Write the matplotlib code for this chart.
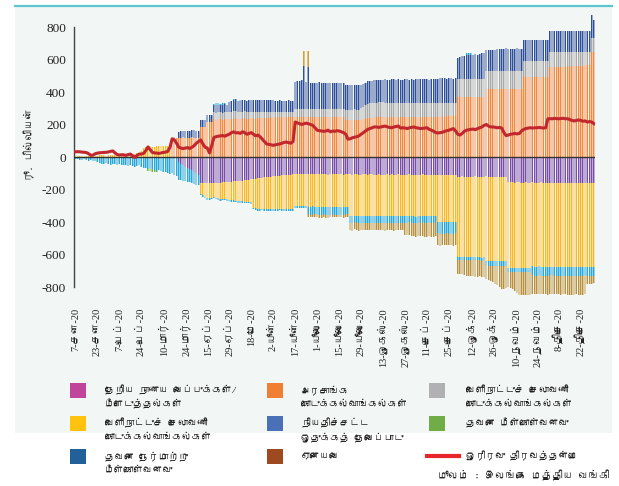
import numpy as np
import matplotlib
matplotlib.use("Agg")
import matplotlib.pyplot as plt
from matplotlib import font_manager as fm
from matplotlib.patches import Rectangle
from matplotlib.lines import Line2D

# ---------- font with Tamil glyphs (if any installed) ----------
tamil_font = None
try:
    from fontTools.ttLib import TTFont
    for f in fm.fontManager.ttflist:
        try:
            tt = TTFont(f.fname, fontNumber=0, lazy=True)
            cm = tt.getBestCmap()
            if cm and 0x0BA4 in cm and 0x0BC6 in cm:
                tamil_font = f.name
                break
        except Exception:
            pass
except Exception:
    pass
TAM = ([tamil_font] if tamil_font else []) + ["DejaVu Sans"]
SERIF = ["Liberation Serif"] + TAM

# ---------- data ----------
tick_labels = ["7-சன-20", "23-சன-20", "7-பெப்-20", "24-பெப்-20", "10-மார்-20", "24-மார்-20",
               "15-ஏப்-20", "29-ஏப்-20", "18-மே-20", "2-யூன்-20", "17-யூன்-20", "1-யூலை-20",
               "15-யூலை-20", "29-யூலை-20", "13-ஓகஸ்-20", "27-ஓகஸ்-20", "11-செப்-20", "25-செப்-20",
               "12-ஒக்-20", "26-ஒக்-20", "10-நவம்-20", "24-நவம்-20", "8-திசெ-20", "22-திசெ-20"]

# positive early foreign exchange (first 50 days)
fx_early = [3,4,5,5,6,5,4,5,6,5,
            8,10,12,10,8,12,14,15,12,10,
            12,14,15,12,10,15,18,20,22,25,
            40,55,60,62,65,62,60,65,68,66,
            68,66,65,62,0,0,0,0,0,0]

govt = [0,0,0,0,0,0,0,0,0,0,
        0,0,0,0,0,0,0,0,0,0,
        0,0,0,0,0,0,0,0,0,0,
        0,0,0,0,0,0,0,0,0,0,
        0,0,0,0,120,125,118,118,120,122,
        120,118,120,122,120,118,120,185,185,186,
        215,214,216,232,230,235,232,230,235,232,
        235,232,236,238,235,232,236,238,235,236,
        238,240,236,238,240,242,238,240,242,244,
        242,244,245,243,246,244,246,245,247,246,
        246,247,245,246,246,247,246,246,245,247,
        246,245,247,246,245,246,247,245,246,247,
        246,245,246,228,227,229,228,230,228,229,
        230,232,235,238,240,242,244,245,244,245,
        244,245,243,246,244,245,242,244,246,245,
        244,243,245,244,246,245,243,244,245,246,
        245,247,246,248,246,247,248,250,248,250,
        255,254,256,255,370,372,370,368,370,371,
        370,372,369,371,370,372,370,418,418,417,
        418,419,417,418,420,418,417,418,419,418,
        418,420,419,418,492,490,493,492,491,492,
        492,490,493,492,491,492,553,552,554,553,
        555,554,556,555,557,556,558,557,559,560,
        562,563,564,565,566,646,646]

fx_pos = [0,0,0,0,0,0,0,0,0,0,
          0,0,0,0,0,0,0,0,0,0,
          0,0,0,0,0,0,0,0,0,0,
          0,0,0,0,0,0,0,0,0,0,
          0,0,0,0,0,0,0,0,0,0,
          0,0,0,0,0,0,0,0,0,0,
          0,0,0,42,43,44,42,43,44,45,
          44,43,45,44,42,43,44,45,43,44,
          42,40,44,42,40,38,42,40,38,36,
          38,36,35,37,34,36,34,35,33,34,
          48,50,52,50,50,50,48,50,52,50,
          50,52,50,49,51,50,48,52,50,49,
          50,52,50,62,63,61,62,64,62,63,
          70,78,85,90,92,92,90,90,92,91,
          92,90,92,89,91,90,93,91,89,90,
          91,92,90,91,89,90,92,91,90,89,
          90,88,89,87,89,88,87,85,87,85,
          80,81,79,80,110,108,110,112,110,109,
          110,108,111,109,110,108,110,112,112,113,
          112,111,113,112,110,112,113,112,111,112,
          112,110,111,112,98,100,97,98,99,98,
          98,100,97,98,99,98,92,93,91,92,
          90,91,89,90,88,89,87,88,86,85,
          83,82,81,80,79,84,84]

srr = [0,0,0,0,0,0,0,0,0,0,
       0,0,0,0,0,0,0,0,0,0,
       0,0,0,0,0,0,0,0,0,0,
       0,0,0,0,0,0,0,0,0,0,
       0,0,0,0,0,0,0,38,42,40,
       42,45,40,43,44,42,40,43,44,42,
       43,44,42,45,46,44,45,47,46,45,
       60,68,70,72,68,70,72,70,68,70,
       70,72,70,68,72,70,68,70,72,70,
       68,66,65,68,66,64,66,68,64,66,
       170,172,168,175,262,162,262,160,158,160,
       160,162,158,160,160,162,160,158,160,162,
       160,158,160,153,152,154,153,152,154,153,
       145,140,138,137,135,136,138,137,136,138,
       140,142,138,140,145,142,140,143,141,140,
       142,145,140,143,141,144,146,142,143,145,
       142,140,145,143,148,146,150,152,150,148,
       150,152,148,151,130,135,140,142,145,148,
       150,148,152,150,155,158,160,130,128,130,
       128,130,132,135,134,136,138,136,134,135,
       136,138,135,137,130,132,128,130,131,130,
       130,132,131,130,132,130,128,130,132,130,
       128,130,132,130,131,128,130,132,131,130,
       132,130,128,130,128,145,115]

cap_idx = [63, 64, 65, 66, 67, 68, 72, 75, 178, 179, 180]
cap_val = [10, 12, 8, 10, 12, 8, 6, 8, 12, 15, 10]
spike_idx = [104, 106]
spike_val = [95, 95]

# negative components (magnitudes)
deposits = [0,0,0,0,0,0,0,0,0,0,
            0,0,0,0,0,0,0,0,0,0,
            0,0,0,0,0,0,0,0,0,0,
            0,0,0,0,0,0,0,0,0,0,
            0,0,0,0,0,0,0,30,40,50,
            60,70,75,80,90,100,110,160,160,160,
            160,160,160,160,160,158,158,156,155,155,
            154,152,150,150,148,146,145,144,142,140,
            138,136,135,132,130,128,126,125,122,120,
            118,116,115,114,112,110,110,108,108,106,
            106,105,105,106,104,105,106,105,104,106,
            105,106,107,105,106,108,107,106,105,107,
            106,107,108,106,105,107,108,106,107,108,
            108,107,106,108,107,106,108,109,107,108,
            108,109,107,108,106,108,109,107,108,109,
            109,108,107,109,108,110,109,108,107,109,
            110,108,109,110,108,109,110,111,109,110,
            110,109,111,110,120,121,119,120,122,120,
            121,120,119,120,121,122,120,119,120,121,
            120,121,120,122,121,120,121,155,156,155,
            157,156,155,157,158,156,157,158,156,157,
            158,157,156,158,157,159,158,157,158,159,
            158,160,159,158,160,159,161,160,159,160,
            160,161,159,160,161,160,162]

fx_neg = [0,0,0,0,0,0,0,0,0,0,
          0,0,0,0,0,0,0,0,0,0,
          0,0,0,0,0,0,0,0,0,0,
          0,0,0,0,0,0,0,0,0,0,
          0,0,0,0,0,0,0,0,0,0,
          0,0,0,0,0,0,0,65,75,85,
          95,95,90,85,90,95,98,100,102,105,
          108,112,115,118,122,125,128,130,132,135,
          140,175,180,185,188,190,192,195,196,198,
          200,202,204,205,206,208,208,210,210,212,
          195,196,195,194,196,195,200,202,200,201,
          200,202,201,200,203,202,200,201,202,200,
          201,200,202,200,201,255,256,254,255,256,
          255,256,257,255,256,258,257,256,255,257,
          256,257,255,256,258,257,256,255,257,256,
          257,256,255,257,256,258,257,256,255,256,
          256,255,257,256,255,290,292,290,291,290,
          291,290,292,290,497,496,498,497,496,498,
          497,496,498,497,496,498,497,520,522,520,
          521,520,522,521,520,522,521,528,527,526,
          526,527,528,526,525,527,526,525,517,518,
          517,516,518,517,519,517,516,518,517,516,
          518,517,516,518,517,519,518,517,516,517,
          518,517,516,517,518,517,516]

fund = [12,15,18,20,15,18,22,20,25,22,
        30,35,40,45,38,42,48,45,40,50,
        45,50,48,52,55,50,58,60,55,52,
        60,65,70,72,68,75,80,85,78,88,
        90,95,100,105,98,110,115,110,100,95,
        90,85,80,80,75,70,62,10,10,10,
        10,10,10,10,8,10,12,10,8,10,
        10,12,10,8,10,12,10,10,12,10,
        12,10,12,14,12,10,12,14,12,12,
        12,14,12,10,12,14,12,12,14,12,
        15,14,16,15,14,15,46,47,48,46,
        47,46,48,47,46,47,48,46,47,48,
        47,46,48,47,46,43,44,42,43,44,
        43,44,42,43,44,43,42,44,43,42,
        43,42,44,43,42,44,43,42,43,44,
        41,42,40,41,42,41,40,42,41,40,
        41,40,42,41,40,70,72,70,71,70,
        71,70,72,70,16,17,15,16,17,16,
        16,15,17,16,15,17,16,28,27,28,
        29,28,27,28,29,28,27,24,25,24,
        24,23,25,24,23,24,25,24,55,56,
        55,54,56,55,54,56,55,54,56,55,
        54,56,55,54,56,55,54,56,55,54,
        56,55,54,56,55,54,56]

others = [0,0,0,0,0,0,0,0,0,0,
          0,0,0,0,0,0,0,0,0,0,
          0,0,0,0,0,0,0,0,0,0,
          0,0,0,0,0,0,0,0,0,0,
          0,0,0,0,0,0,0,0,0,0,
          0,0,0,0,0,0,0,0,0,0,
          0,0,0,0,0,0,0,0,0,0,
          0,0,0,0,0,0,0,0,0,0,
          0,0,0,0,0,0,0,0,0,0,
          0,0,0,0,0,0,0,0,0,0,
          0,0,0,0,0,0,18,17,19,18,
          18,19,17,18,19,18,17,19,18,17,
          18,19,17,18,19,44,45,43,44,45,
          44,43,45,44,43,45,44,43,44,45,
          44,45,43,44,45,44,43,45,44,43,
          70,72,75,78,80,82,80,78,82,85,
          84,86,85,88,86,70,72,70,71,70,
          70,72,70,71,85,88,90,92,95,98,
          100,102,104,105,103,104,105,85,90,95,
          100,110,120,130,140,145,140,95,100,110,
          120,130,140,142,145,143,140,142,115,114,
          116,115,114,116,115,117,116,115,114,116,
          115,116,114,115,117,116,115,114,116,117,
          115,116,114,50,45,48,40]

green_idx = [33, 34, 35, 36, 37]
green_val = [12, 18, 20, 15, 10]

overnight = [32,33,32,30,29,27,20,10,12,20,
             24,26,27,28,29,31,35,37,25,15,
             12,14,13,10,15,18,8,-3,10,18,
             18,22,40,62,45,28,25,24,22,25,
             28,30,35,60,112,105,85,60,55,52,
             55,58,52,60,70,85,95,105,80,60,
             55,25,70,120,125,128,130,132,128,135,
             140,150,155,148,150,145,155,150,140,145,
             150,140,130,135,125,110,95,80,78,75,
             72,75,78,80,85,90,92,88,85,95,
             215,210,205,200,205,208,205,200,195,180,
             165,162,160,158,160,165,155,160,158,162,
             160,155,150,140,110,112,118,122,125,130,
             140,150,160,170,175,180,185,185,182,185,
             188,190,185,182,180,185,188,190,178,180,
             178,175,180,182,185,180,178,175,176,178,
             180,170,165,158,150,148,150,152,158,162,
             165,170,175,160,140,135,145,158,165,168,
             170,172,168,175,180,185,195,200,190,185,
             185,183,180,182,178,150,132,135,140,142,
             145,142,145,160,170,175,178,180,178,180,
             180,182,180,178,180,235,236,235,238,236,
             235,237,238,235,236,230,225,222,225,228,
             225,220,222,215,218,215,205]

legend_labels = ["தேறிய நாணய வைப்புக்கள்/\nமீளெடுத்தல்கள்", "அரசாங்க\nகொடுக்கல்வாங்கல்கள்",
                 "வெளிநாட்டுச் செலாவணி\nகொடுக்கல்வாங்கல்கள்", "வெளிநாட்டுச் செலாவணி\nகொடுக்கல்வாங்கல்கள்",
                 "நியதிச்சட்ட\nஒதுக்கத் தேவைப்பாடு", "தவனை மீள்கொள்வனவு",
                 "தவனை நேர்மாற்று\nமீள்கொள்வனவு", "ஏனையவை", "ஓரிரவு திரவத்தன்மை"]
legend_colors = ["#c0449a", "#f07f33", "#b1b1b3", "#ffc20e", "#4a70b8", "#70ad47",
                 "#22609a", "#9e4a20", "#e8262a"]

# ---------- build arrays ----------
n = len(govt)
idx = np.arange(n)
fx_e = np.zeros(n); fx_e[:len(fx_early)] = fx_early
cap = np.zeros(n); cap[cap_idx] = cap_val
spike = np.zeros(n); spike[spike_idx] = spike_val
grn = np.zeros(n); grn[green_idx] = green_val

pos_series = [(fx_e, "#f9b824", "#fbe0a0"),
              (np.array(govt, float), "#f08a3c", "#f8c6a8"),
              (np.array(fx_pos, float), "#a9a9a9", "#d6d8d8"),
              (np.array(srr, float), "#2e4f9a", "#9aaacd"),
              (cap, "#2aa8d8", "#8fd0ea"),
              (spike, "#d0a040", "#e2c27a")]
neg_series = [(np.array(deposits, float), "#7a4ea6", "#bdaad5"),
              (np.array(fx_neg, float), "#f9b824", "#fbe0a0"),
              (np.array(fund, float), "#2aa8d8", "#8fd0ea"),
              (np.array(others, float), "#b8903f", "#dccba2"),
              (grn, "#6fb24a", "#b5dca0")]

# ---------- figure ----------
W, H = 619, 486
fig = plt.figure(figsize=(W / 100, H / 100), dpi=100)
fig.patch.set_facecolor("white")
fig.add_artist(Rectangle((15 / W, 1 - 433 / H), 597 / W, 426 / H, transform=fig.transFigure,
                         facecolor="#f2f6f5", edgecolor="none", zorder=0))
fig.add_artist(Line2D([15 / W, 612 / W], [1 - 6.5 / H, 1 - 6.5 / H], transform=fig.transFigure,
                      color="#5ec4d0", lw=1.6, zorder=1))

ylo, yhi = -870, 880
ax_left, ax_right = 74.4, 595.1
ax_top = 157 - yhi * 0.1625
ax_bot = 157 - ylo * 0.1625
ax = fig.add_axes([ax_left / W, 1 - ax_bot / H, (ax_right - ax_left) / W, (ax_bot - ax_top) / H])
ax.set_facecolor("none")
ax.set_xlim(-0.5, n - 0.5)
ax.set_ylim(ylo, yhi)

bottom = np.zeros(n)
for vals, dark, light in pos_series:
    ax.bar(idx, vals, bottom=bottom, width=0.92, color=light, linewidth=0, zorder=2)
    ax.bar(idx - 0.1, vals, bottom=bottom, width=0.32, color=dark, linewidth=0, zorder=2.1)
    bottom = bottom + vals
bottom = np.zeros(n)
for vals, dark, light in neg_series:
    ax.bar(idx, -vals, bottom=bottom, width=0.92, color=light, linewidth=0, zorder=2)
    ax.bar(idx - 0.1, -vals, bottom=bottom, width=0.32, color=dark, linewidth=0, zorder=2.1)
    bottom = bottom - vals

ax.axhline(0, color="#333333", lw=1.0, zorder=3)
ax.plot(idx, overnight, color="#c1272d", lw=2.2, zorder=4, solid_joinstyle="round")

for s in ["top", "right", "bottom"]:
    ax.spines[s].set_visible(False)
ax.spines["left"].set_color("#444444")
ax.spines["left"].set_linewidth(1.0)
ax.spines["left"].set_bounds(-800, 800)
ax.set_yticks(np.arange(-800, 801, 200))
ax.set_yticklabels([str(v) for v in range(-800, 801, 200)], family=SERIF, fontsize=9.5)
ax.set_xticks(np.arange(0, n, 10)[:len(tick_labels)])
ax.set_xticklabels(tick_labels, rotation=90, family=SERIF, fontsize=7.5)
ax.tick_params(axis="both", length=0, colors="#222222")
ax.tick_params(axis="y", pad=6)
ax.tick_params(axis="x", pad=7)

fig.text(29 / W, 1 - 145 / H, "ரூ. பில்லியன்", rotation=90, ha="center", va="center",
         family=TAM, fontsize=7.5, color="#222222")

# ---------- legend ----------
col_patch_x = [70, 267, 429]
col_text_x = [105, 301, 466]
row_top = [383, 416, 449]
for k, (lab, colr) in enumerate(zip(legend_labels, legend_colors)):
    r, c = divmod(k, 3)
    if k < 8:
        fig.add_artist(Rectangle((col_patch_x[c] / W, 1 - (row_top[r] + 15) / H), 16 / W, 15 / H,
                                 transform=fig.transFigure, facecolor=colr, edgecolor="none"))
    else:
        fig.add_artist(Line2D([(col_patch_x[c] - 2) / W, (col_patch_x[c] + 30) / W],
                              [1 - (row_top[r] + 7) / H] * 2, transform=fig.transFigure,
                              color=colr, lw=3))
    for j, line in enumerate(lab.split("\n")):
        fig.text(col_text_x[c] / W, 1 - (row_top[r] + 7 + 14 * j) / H, line, ha="left", va="center",
                 family=TAM, fontsize=7, color="#222222")

fig.text(609 / W, 1 - 475 / H, "மூலம் : இலங்கை மத்திய வங்கி", ha="right", va="center",
         family=TAM, fontsize=7.5, color="#222222")

fig.savefig("out.png", dpi=100, facecolor="white")
